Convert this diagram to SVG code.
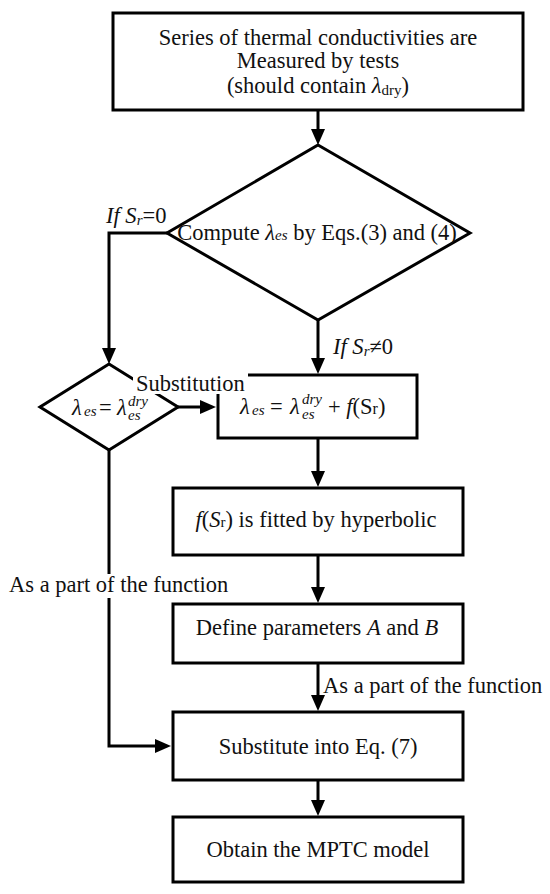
<svg xmlns="http://www.w3.org/2000/svg" width="550" height="894" viewBox="0 0 550 894">
<style>
  text { font-family: "Liberation Serif", "DejaVu Serif", serif; font-size: 22.5px; fill: #111; }
  .c { text-anchor: middle; }
  .i { font-style: italic; }
  .s { font-size: 15px; }
  .box { fill: #fff; stroke: #000; stroke-width: 3; }
  .ln { fill: none; stroke: #000; stroke-width: 3; stroke-linejoin: miter; }
  .bg { fill: #fff; stroke: none; }
</style>
<defs>
  <marker id="ah" markerUnits="userSpaceOnUse" markerWidth="16" markerHeight="14" refX="10" refY="7" orient="auto">
    <path d="M0,0 L16,7 L0,14 z" fill="#000"/>
  </marker>
</defs>
<rect width="550" height="894" fill="#fff"/>

<g id="n-measure">
  <rect class="box" x="113" y="13" width="410" height="97"/>
  <text class="c" x="318" y="45">Series of thermal conductivities are</text>
  <text class="c" x="318" y="68">Measured by tests</text>
  <text class="c" x="318" y="93">(should contain <tspan class="i">λ</tspan><tspan class="s" dy="2">dry</tspan><tspan dy="-2">)</tspan></text>
</g>

<g id="n-compute">
  <polygon class="box" points="318,145 470,233 318,320 167,233"/>
  <text class="c" x="317" y="240">Compute <tspan class="i">λ</tspan><tspan class="i s">es</tspan> by Eqs.(3) and (4)</text>
</g>

<g id="n-dry">
  <polygon class="box" points="109,364 178,407 109,450 40,407"/>
  <text class="i" x="72" y="415">λ</text>
  <text class="i s" x="84" y="416">es</text>
  <text x="99" y="415">=</text>
  <text class="i" x="117" y="415">λ</text>
  <text class="i s" x="128" y="406">dry</text>
  <text class="i s" x="128" y="420">es</text>
</g>

<g id="n-sum">
  <rect class="box" x="218" y="375" width="199" height="63"/>
  <text class="i" x="240" y="414">λ</text>
  <text class="i s" x="252" y="415">es</text>
  <text x="270" y="414">=</text>
  <text class="i" x="290" y="414">λ</text>
  <text class="i s" x="302" y="404">dry</text>
  <text class="i s" x="302" y="419">es</text>
  <text x="328" y="414">+ <tspan class="i">f</tspan>(S<tspan font-size="16">r</tspan>)</text>
</g>

<g id="n-fit">
  <rect class="box" x="173" y="488" width="290" height="67"/>
  <text class="c" x="316" y="527"><tspan class="i">f</tspan>(<tspan class="i">S</tspan><tspan class="s">r</tspan>) is fitted by hyperbolic</text>
</g>

<g id="n-define">
  <rect class="box" x="173" y="604" width="290" height="59"/>
  <text class="c" x="317" y="635">Define parameters <tspan class="i">A</tspan> and <tspan class="i">B</tspan></text>
</g>

<g id="n-substitute">
  <rect class="box" x="173" y="712" width="290" height="68"/>
  <text class="c" x="318" y="754">Substitute into Eq. (7)</text>
</g>

<g id="n-obtain">
  <rect class="box" x="173" y="817" width="290" height="65"/>
  <text class="c" x="318" y="857">Obtain the MPTC model</text>
</g>

<g id="connectors">
  <path class="ln" d="M318,111 V139" marker-end="url(#ah)"/>
  <path class="ln" d="M318,320 V368" marker-end="url(#ah)"/>
  <path class="ln" d="M167,233 H109 V358" marker-end="url(#ah)"/>
  <path class="ln" d="M178,407 H210" marker-end="url(#ah)"/>
  <path class="ln" d="M318,438 V481" marker-end="url(#ah)"/>
  <path class="ln" d="M318,555 V597" marker-end="url(#ah)"/>
  <path class="ln" d="M318,663 V705" marker-end="url(#ah)"/>
  <path class="ln" d="M109,450 V746 H165" marker-end="url(#ah)"/>
  <path class="ln" d="M318,780 V810" marker-end="url(#ah)"/>

  <text x="106" y="223"><tspan class="i">If S</tspan><tspan class="i s" dy="2">r</tspan><tspan dy="-2">=0</tspan></text>
  <text x="333" y="354"><tspan class="i">If S</tspan><tspan class="i s" dy="2">r</tspan><tspan dy="-2">≠0</tspan></text>
  <rect class="bg" x="133" y="372" width="115" height="22"/>
  <text x="136" y="391">Substitution</text>
  <rect class="bg" x="6" y="574" width="224" height="24"/>
  <text x="9" y="592">As a part of the function</text>
  <text x="323" y="693">As a part of the function</text>
</g>
</svg>
